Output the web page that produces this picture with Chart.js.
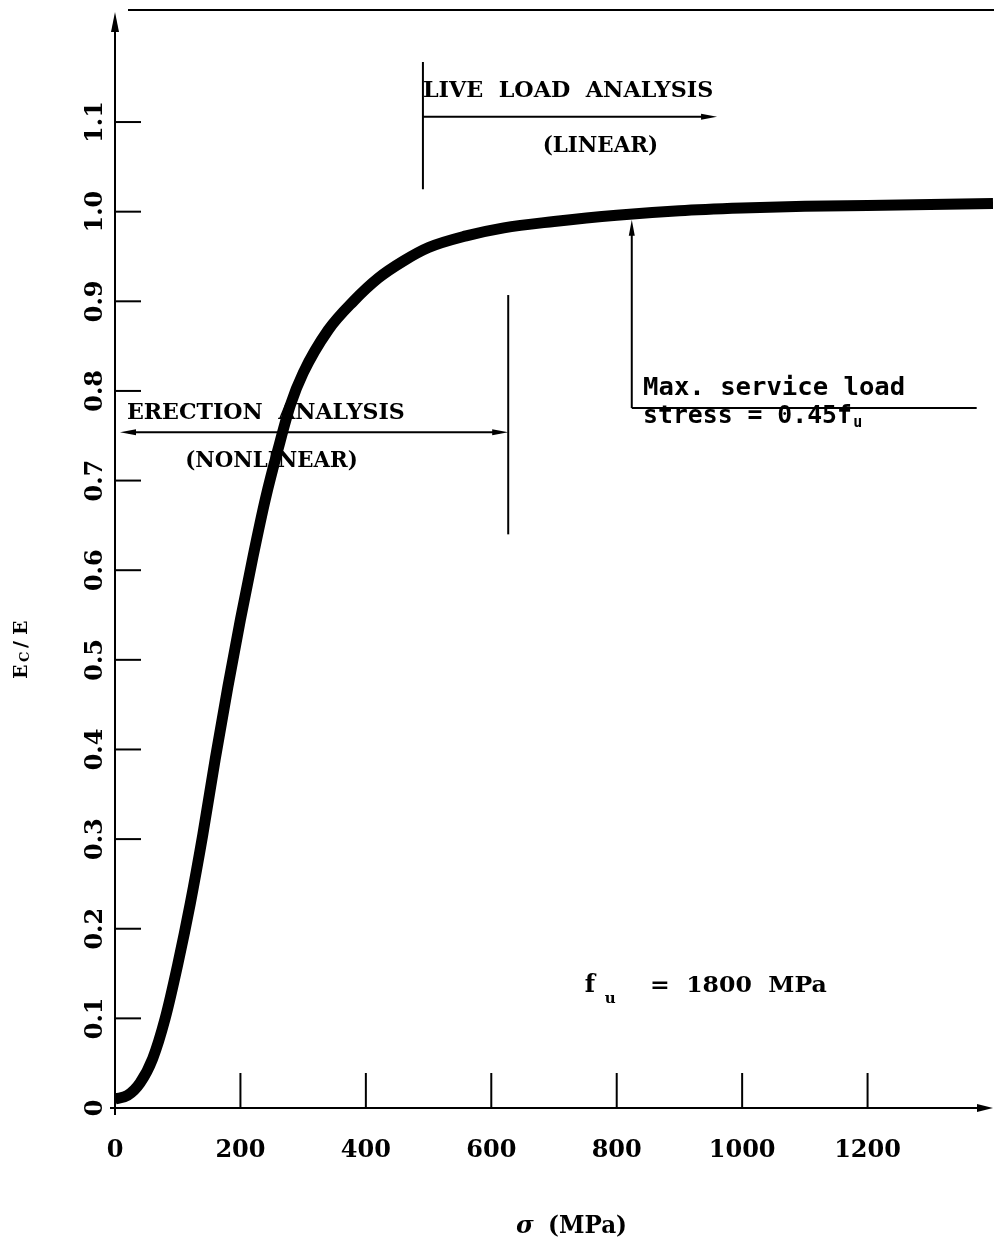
<!DOCTYPE html>
<html>
<head>
<meta charset="utf-8">
<title>Ec/E vs stress</title>
<script src="https://cdn.jsdelivr.net/npm/chart.js@4.4.0/dist/chart.umd.min.js"></script>
<style>
  html, body { margin: 0; padding: 0; background: #fff; }
  #wrap { width: 994px; height: 1244px; position: relative; }
</style>
</head>
<body>
<div id="wrap"><canvas id="chart"></canvas></div>
<script>
// stress (MPa) and modulus ratio Ec/E
const stress = [0, 20, 40, 60, 80, 100, 120, 140, 160, 180, 200, 220, 240, 260, 280, 300,
  340, 380, 420, 460, 500, 560, 620, 700, 800, 900, 1000, 1100, 1200, 1300, 1400];
const ratio = [0.010, 0.014, 0.028, 0.055, 0.100, 0.160, 0.228, 0.305, 0.390, 0.470, 0.545, 0.615,
  0.680, 0.735, 0.785, 0.820, 0.868, 0.900, 0.926, 0.945, 0.960, 0.973, 0.982, 0.989, 0.996,
  1.001, 1.004, 1.006, 1.007, 1.008, 1.009];

const xTicks = [0, 200, 400, 600, 800, 1000, 1200];
const yTicks = [0, 0.1, 0.2, 0.3, 0.4, 0.5, 0.6, 0.7, 0.8, 0.9, 1.0, 1.1];
const yTickLabels = ['0', '0.1', '0.2', '0.3', '0.4', '0.5', '0.6', '0.7', '0.8', '0.9', '1.0', '1.1'];

const SERIF = '"DejaVu Serif", "Liberation Serif", serif';
const MONO = '"DejaVu Sans Mono", "Liberation Mono", monospace';

function seg(ctx, x1, y1, x2, y2) {
  ctx.beginPath();
  ctx.moveTo(x1, y1);
  ctx.lineTo(x2, y2);
  ctx.stroke();
}

function arrowHead(ctx, x, y, dir, len, half) {
  ctx.beginPath();
  ctx.moveTo(x, y);
  if (dir === 'up') { ctx.lineTo(x - half, y + len); ctx.lineTo(x + half, y + len); }
  else if (dir === 'right') { ctx.lineTo(x - len, y - half); ctx.lineTo(x - len, y + half); }
  else { ctx.lineTo(x + len, y - half); ctx.lineTo(x + len, y + half); }
  ctx.closePath();
  ctx.fill();
}

// draw text squeezed/stretched to a given width
function fitText(ctx, str, x, y, w) {
  const m = ctx.measureText(str).width;
  ctx.save();
  ctx.translate(x, y);
  ctx.scale(w / m, 1);
  ctx.fillText(str, 0, 0);
  ctx.restore();
}

const drawing = {
  id: 'drawing',
  beforeDatasetsDraw(chart) {
    const ctx = chart.ctx;
    const a = chart.chartArea;
    const X = v => chart.scales.x.getPixelForValue(v);
    const Y = v => chart.scales.y.getPixelForValue(v);
    ctx.save();
    ctx.strokeStyle = '#000';
    ctx.fillStyle = '#000';
    ctx.lineWidth = 2;

    // axes with arrows, top frame line
    seg(ctx, a.left, a.bottom + 7, a.left, a.top + 10);
    arrowHead(ctx, a.left, a.top + 2, 'up', 20, 4);
    seg(ctx, a.left - 5, a.bottom, a.right - 10, a.bottom);
    arrowHead(ctx, a.right, a.bottom, 'right', 16, 4);
    seg(ctx, a.left + 13, a.top, chart.width, a.top);

    // inward tick marks
    xTicks.forEach(v => { if (v > 0) seg(ctx, X(v), a.bottom, X(v), a.bottom - 35); });
    yTicks.forEach(v => { if (v > 0) seg(ctx, a.left, Y(v), a.left + 26, Y(v)); });

    // rotated y tick labels
    ctx.font = 'bold 24px ' + SERIF;
    ctx.textAlign = 'center';
    ctx.textBaseline = 'middle';
    yTicks.forEach((v, i) => {
      ctx.save();
      ctx.translate(a.left - 19, Y(v));
      ctx.rotate(-Math.PI / 2);
      ctx.fillText(yTickLabels[i], 0, 0);
      ctx.restore();
    });

    // y title  Ec/E
    ctx.save();
    ctx.translate(27, 679);
    ctx.rotate(-Math.PI / 2);
    ctx.textAlign = 'left';
    ctx.textBaseline = 'alphabetic';
    ctx.font = 'bold 19px ' + SERIF;
    ctx.fillText('E', 0, 0);
    ctx.font = 'bold 13px ' + SERIF;
    ctx.fillText('C', 17, 2);
    ctx.font = 'bold 19px ' + SERIF;
    ctx.fillText('/', 31, 0);
    ctx.fillText('E', 44, 0);
    ctx.restore();

    // x title  σ (MPa)
    ctx.textAlign = 'left';
    ctx.textBaseline = 'alphabetic';
    ctx.font = 'italic bold 24px ' + SERIF;
    ctx.fillText('σ', 516, 1233);
    ctx.font = 'bold 24px ' + SERIF;
    fitText(ctx, '(MPa)', 548, 1233, 79);

    // live load analysis
    seg(ctx, X(491), Y(1.167), X(491), Y(1.025));
    seg(ctx, X(491), Y(1.106), X(960) - 10, Y(1.106));
    arrowHead(ctx, X(960), Y(1.106), 'right', 16, 3);
    ctx.font = 'bold 22px ' + SERIF;
    fitText(ctx, 'LIVE  LOAD  ANALYSIS', X(491), Y(1.128), X(954) - X(491));
    fitText(ctx, '(LINEAR)', X(682), Y(1.067), X(866) - X(682));

    // erection analysis
    seg(ctx, X(627), Y(0.907), X(627), Y(0.640));
    seg(ctx, X(8) + 8, Y(0.754), X(627) - 8, Y(0.754));
    arrowHead(ctx, X(8), Y(0.754), 'left', 16, 3);
    arrowHead(ctx, X(627), Y(0.754), 'right', 16, 3);
    ctx.font = 'bold 23px ' + SERIF;
    fitText(ctx, 'ERECTION  ANALYSIS', X(19), Y(0.769), X(462) - X(19));
    fitText(ctx, '(NONLINEAR)', X(112), Y(0.715), X(387) - X(112));

    // max. service load stress
    seg(ctx, X(824), Y(0.991) + 10, X(824), Y(0.781));
    arrowHead(ctx, X(824), Y(0.991), 'up', 16, 3);
    seg(ctx, X(824), Y(0.781), X(1374), Y(0.781));
    ctx.font = 'bold 24px ' + MONO;
    fitText(ctx, 'Max. service load', X(842), Y(0.796), X(1260) - X(842));
    fitText(ctx, 'stress = 0.45f', X(842), Y(0.7645), X(1175) - X(842));
    ctx.font = 'bold 15px ' + MONO;
    ctx.fillText('u', X(1177), Y(0.760));

    // fu = 1800 MPa
    ctx.font = 'bold 24px ' + SERIF;
    ctx.fillText('f', X(749), Y(0.1295));
    ctx.font = 'bold 15px ' + SERIF;
    ctx.fillText('u', X(781), Y(0.117));
    ctx.font = 'bold 23px ' + SERIF;
    fitText(ctx, '=  1800  MPa', X(853), Y(0.1295), X(1135) - X(853));

    ctx.restore();
  }
};

const ctx = document.getElementById('chart').getContext('2d');
const chart = new Chart(ctx, {
  type: 'line',
  data: {
    datasets: [{
      label: 'Ec/E',
      data: stress.map((s, i) => ({ x: s, y: ratio[i] })),
      borderColor: '#000',
      borderWidth: 11,
      pointRadius: 0,
      cubicInterpolationMode: 'monotone',
      fill: false
    }]
  },
  options: {
    responsive: true,
    maintainAspectRatio: false,
    animation: false,
    devicePixelRatio: 1,
    layout: { padding: { top: 10, right: 1, left: 0, bottom: 0 } },
    plugins: { legend: { display: false }, tooltip: { enabled: false } },
    scales: {
      x: {
        type: 'linear',
        min: 0,
        max: 1400,
        afterFit: s => { s.height = 136; s.paddingLeft = 0; s.paddingRight = 0; },
        grid: { display: false, drawTicks: false },
        border: { display: false },
        ticks: {
          stepSize: 200,
          padding: 28,
          color: '#000',
          font: { family: SERIF, size: 24, weight: 'bold' },
          maxRotation: 0,
          callback: v => (xTicks.includes(v) ? String(v) : '')
        }
      },
      y: {
        type: 'linear',
        min: 0,
        max: 1.225,
        afterFit: s => { s.width = 115; s.paddingTop = 0; s.paddingBottom = 0; },
        grid: { display: false, drawTicks: false },
        border: { display: false },
        ticks: { display: false }
      }
    }
  },
  plugins: [drawing]
});
</script>
</body>
</html>
